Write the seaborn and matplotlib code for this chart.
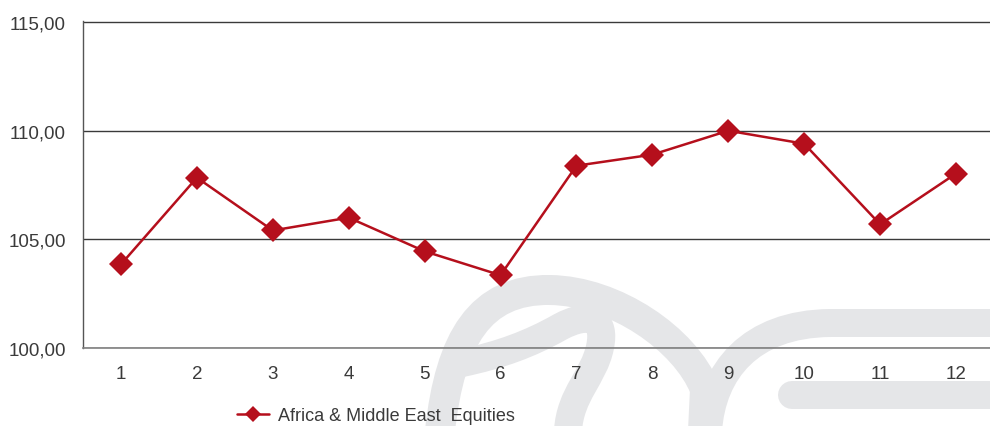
import matplotlib
matplotlib.use("Agg")
import matplotlib.pyplot as plt
import matplotlib.ticker as mticker
from matplotlib.patches import PathPatch
from matplotlib.path import Path
import pandas as pd
import seaborn as sns

# ---------------------------------------------------------------------------
# Data
# ---------------------------------------------------------------------------
MONTHS = [1, 2, 3, 4, 5, 6, 7, 8, 9, 10, 11, 12]
VALUES = [103.85, 107.84, 105.41, 106.00, 104.45, 103.35,
          108.39, 108.90, 110.00, 109.40, 105.69, 108.03]
SERIES_NAME = "Africa & Middle East  Equities"
Y_TICKS = [100, 105, 110, 115]

df = pd.DataFrame({"month": MONTHS, "value": VALUES})

# ---------------------------------------------------------------------------
# Style
# ---------------------------------------------------------------------------
sns.set_theme(style="white")
plt.rcParams["font.family"] = ["Liberation Sans", "DejaVu Sans"]

RED = "#b50f1c"
TEXT = "#3a3a3a"
WATERMARK = "#e5e6e8"

W, H = 990, 427
fig = plt.figure(figsize=(W / 100, H / 100), dpi=100)


def f(x, y):
    # figure-pixel coords (origin top-left) -> figure fraction
    return (x / W, 1 - y / H)


M, L, C = Path.MOVETO, Path.LINETO, Path.CURVE4

# background logo watermark (rough bezier strokes)
strokes = [
    ([(440, 432), (450, 340), (480, 290), (550, 291),
      (615, 292), (685, 340), (705, 390), (703, 432)],
     [M, C, C, C, C, C, C, L], 30),
    ([(462, 364), (500, 356), (530, 345), (560, 328),
      (590, 312), (606, 320), (600, 348),
      (594, 378), (570, 395), (568, 432)],
     [M, C, C, C, C, C, C, C, C, C], 28),
    ([(708, 432), (712, 372), (750, 325), (830, 324), (1000, 324)],
     [M, C, C, C, L], 28),
    ([(792, 396), (1000, 396)], [M, L], 28),
]
for pts, codes, lw in strokes:
    path = Path([f(x, y) for x, y in pts], codes)
    fig.add_artist(PathPatch(path, transform=fig.transFigure, fill=False,
                             edgecolor=WATERMARK, lw=lw * 0.72,
                             capstyle="round", joinstyle="round", zorder=-5))

ax = fig.add_axes([83 / W, 78 / H, 911 / W, 327 / H])
ax.patch.set_visible(False)

sns.lineplot(data=df, x="month", y="value", ax=ax, color=RED, linewidth=1.8,
             marker="D", markersize=12, markeredgecolor=RED,
             markeredgewidth=0, label=SERIES_NAME, zorder=5)

ax.set_xlim(0.5, 12.5)
ax.set_ylim(100, 115.05)
ax.set_yticks(Y_TICKS)
ax.yaxis.set_major_formatter(
    mticker.FuncFormatter(lambda v, p: f"{v:.2f}".replace(".", ",")))
ax.set_xticks(MONTHS)
ax.set_xticks([m - 0.5 for m in MONTHS] + [12.5], minor=True)

ax.yaxis.grid(True, color="#3a3a3a", linewidth=1.0)
ax.set_axisbelow(True)

for side in ["top", "right"]:
    ax.spines[side].set_visible(False)
ax.spines["left"].set_color("#555555")
ax.spines["bottom"].set_color("#808080")
ax.spines["left"].set_linewidth(1.0)
ax.spines["bottom"].set_linewidth(1.2)

ax.tick_params(axis="x", which="major", length=0, pad=12,
               labelsize=13.5, labelcolor=TEXT)
ax.tick_params(axis="x", which="minor", length=4.5, width=1,
               color="#555555", direction="out")
ax.tick_params(axis="y", length=4.5, width=1, color="#555555", pad=8,
               labelsize=13.5, labelcolor=TEXT, direction="out")
ax.set_xlabel("")
ax.set_ylabel("")

leg = ax.legend(loc="center", bbox_to_anchor=(376 / W, 1 - 417 / H),
                bbox_transform=fig.transFigure, frameon=False,
                fontsize=13, handlelength=1.8, handletextpad=0.5,
                markerscale=0.7, borderpad=0)
for t in leg.get_texts():
    t.set_color(TEXT)

plt.savefig("out.png", dpi=100)
plt.close()
